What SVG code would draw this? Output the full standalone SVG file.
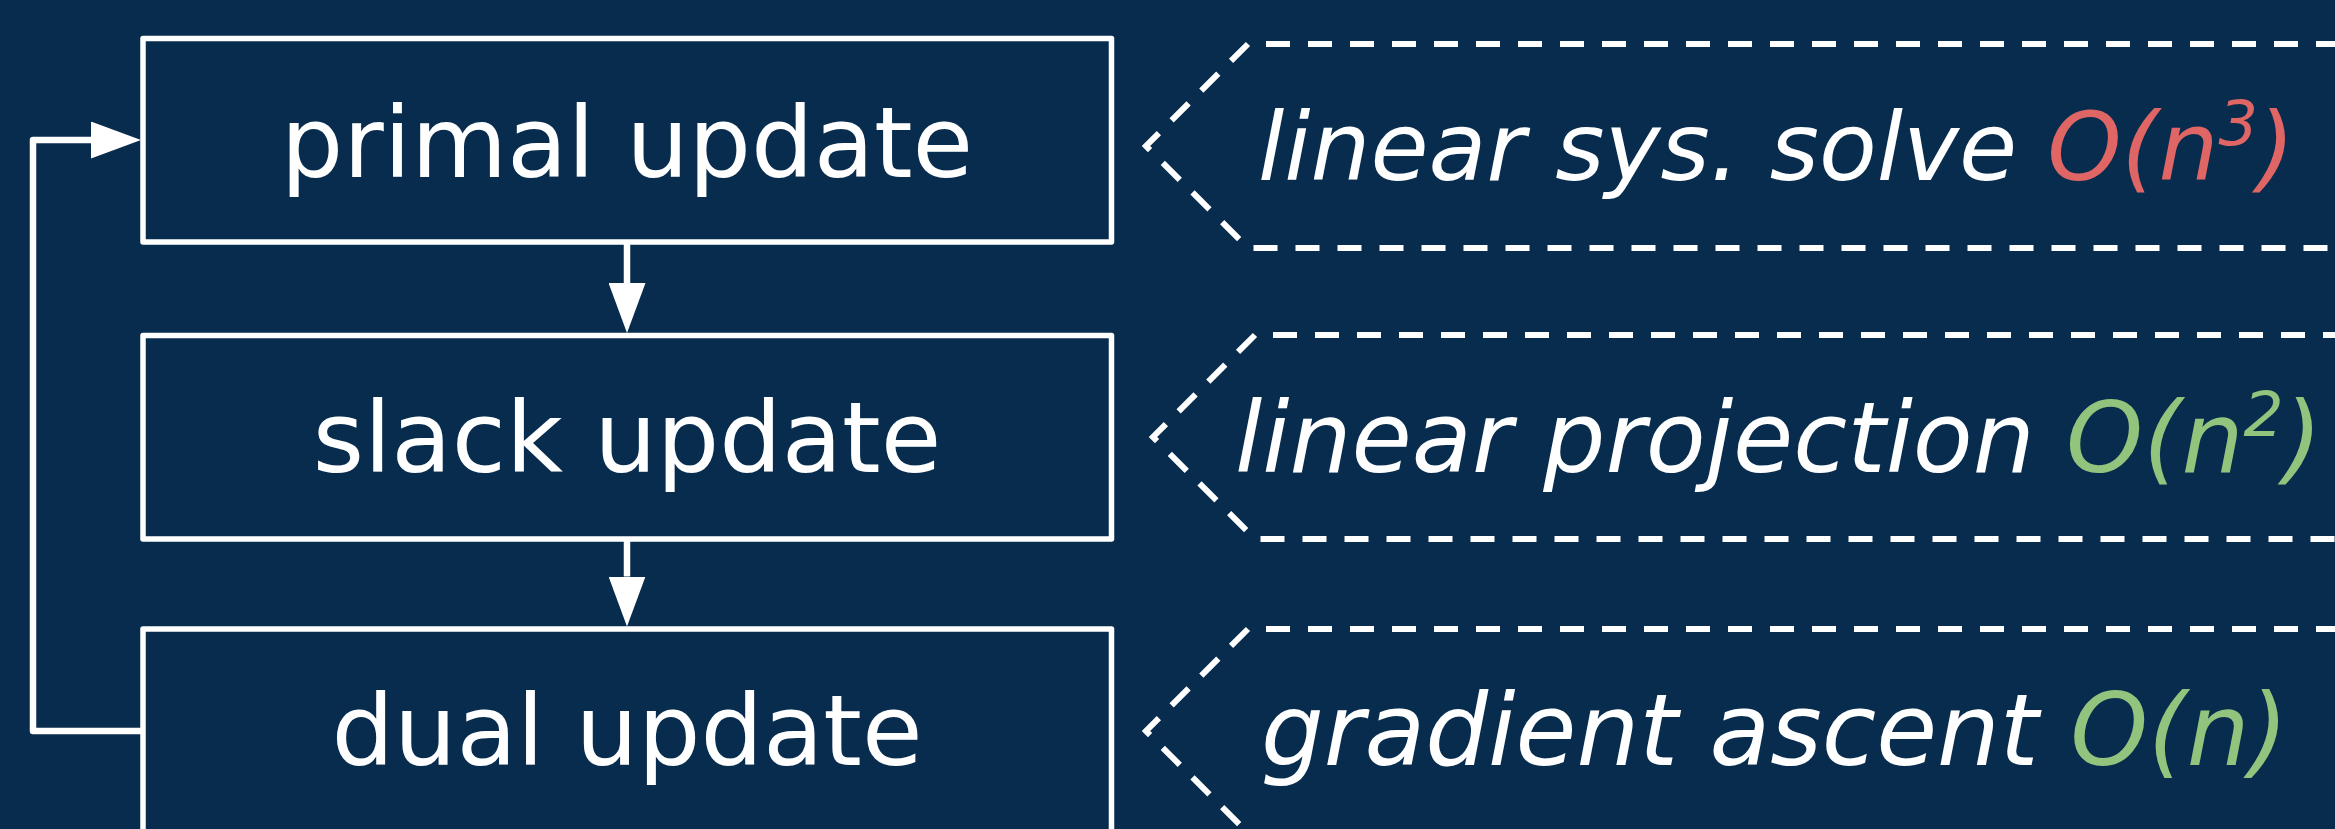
<svg xmlns="http://www.w3.org/2000/svg" width="2335" height="829" viewBox="0 0 2335 829">
  <defs>
    <style>
      .box { fill: #082c4d; stroke: #ffffff; stroke-width: 5.5; stroke-linejoin: round; }
      .lbl { font-family: "DejaVu Sans", "Liberation Sans", sans-serif; font-size: 98.5px; fill: #ffffff; text-anchor: middle; }
      .cost { font-family: "DejaVu Sans", "Liberation Sans", sans-serif; font-style: italic; fill: #ffffff; }
      .red { fill: #e06666; }
      .green { fill: #93c47d; }
      .dash { fill: none; stroke: #ffffff; stroke-width: 6; stroke-dasharray: 24 18; }
      .dashtop { fill: none; stroke: #ffffff; stroke-width: 6; stroke-dasharray: 24 18; stroke-dashoffset: 24; }
      .conn { fill: none; stroke: #ffffff; stroke-width: 6.5; stroke-linejoin: round; }
    </style>
    <marker id="arrow" markerUnits="userSpaceOnUse" markerWidth="50" markerHeight="37" refX="0" refY="18.5" orient="auto">
      <path d="M0,0 L50,18.5 L0,37 Z" fill="#ffffff"/>
    </marker>
  </defs>
  <rect x="0" y="0" width="2335" height="829" fill="#082c4d"/>

  <g id="primal-update">
    <rect class="box" x="143" y="38.5" width="968.5" height="203.5"/>
    <text class="lbl" x="627" y="176.5">primal update</text>
  </g>
  <g id="slack-update">
    <rect class="box" x="143" y="335.5" width="968.5" height="203.5"/>
    <text class="lbl" x="627" y="471.5">slack update</text>
  </g>
  <g id="dual-update">
    <rect class="box" x="143" y="629" width="968.5" height="204"/>
    <text class="lbl" x="627" y="765">dual update</text>
  </g>

  <g id="cost-primal">
    <path class="dash" d="M1248,44 L1146,146 L1248,248 H2400"/>
    <path class="dashtop" d="M1248,44 H2400"/>
    <text class="cost" x="1258" y="180" style="font-size:94.5px">linear sys. solve <tspan class="red">O(n<tspan style="font-size:62px" dy="-35">3</tspan><tspan dy="35">)</tspan></tspan></text>
  </g>
  <g id="cost-slack">
    <path class="dash" d="M1255,335 L1153,437 L1255,539 H2400"/>
    <path class="dashtop" d="M1255,335 H2400"/>
    <text class="cost" x="1235" y="471.5" style="font-size:98px">linear projection <tspan class="green">O(n<tspan style="font-size:63px" dy="-36">2</tspan><tspan dy="36">)</tspan></tspan></text>
  </g>
  <g id="cost-dual">
    <path class="dash" d="M1248,629 L1146,731 L1248,833 H2400"/>
    <path class="dashtop" d="M1248,629 H2400"/>
    <text class="cost" x="1261" y="765" style="font-size:99px">gradient ascent <tspan class="green">O(n)</tspan></text>
  </g>

  <g id="connectors">
    <path class="conn" d="M627,242 V283" marker-end="url(#arrow)"/>
    <path class="conn" d="M627,539 V576.5" marker-end="url(#arrow)"/>
    <path class="conn" d="M141,731 H33 V140 H91" marker-end="url(#arrow)"/>
  </g>
</svg>
